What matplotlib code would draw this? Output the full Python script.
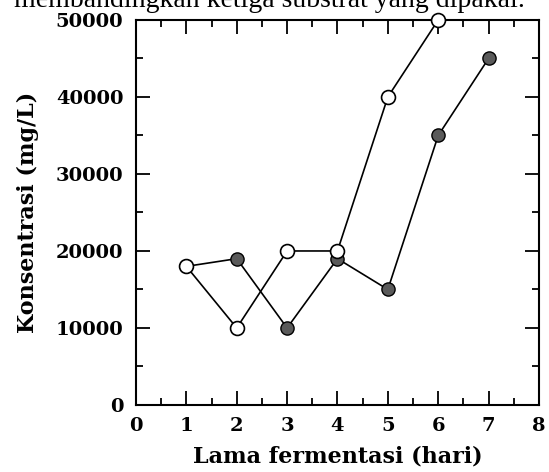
import matplotlib.pyplot as plt
from matplotlib.ticker import MultipleLocator

# data
hari_terbuka = [1, 2, 3, 4, 5, 6]
konsentrasi_terbuka = [18000, 10000, 20000, 20000, 40000, 50000]

hari_isi = [1, 2, 3, 4, 5, 6, 7]
konsentrasi_isi = [18000, 19000, 10000, 19000, 15000, 35000, 45000]

x_ticks = [0, 1, 2, 3, 4, 5, 6, 7, 8]
y_ticks = [0, 10000, 20000, 30000, 40000, 50000]

plt.rcParams['font.family'] = ['DejaVu Serif', 'Liberation Serif']

fig = plt.figure(figsize=(5.49, 4.72), dpi=100)
ax = fig.add_axes([0.2477, 0.142, 0.734, 0.8157])

ax.plot(hari_isi, konsentrasi_isi, color='black', lw=1.2, marker='o',
        markersize=9.5, markerfacecolor='#5a5a5a', markeredgecolor='black',
        markeredgewidth=1.0, clip_on=False, zorder=3)
ax.plot(hari_terbuka, konsentrasi_terbuka, color='black', lw=1.2, marker='o',
        markersize=10, markerfacecolor='white', markeredgecolor='black',
        markeredgewidth=1.2, clip_on=False, zorder=4)

ax.set_xlim(0, 8)
ax.set_ylim(0, 50000)
ax.set_xticks(x_ticks)
ax.set_yticks(y_ticks)
ax.xaxis.set_minor_locator(MultipleLocator(0.5))
ax.yaxis.set_minor_locator(MultipleLocator(5000))
ax.tick_params(which='both', direction='in', top=True, right=True,
               labelsize=14, width=1.3, pad=9)
ax.tick_params(which='major', length=10)
ax.tick_params(which='minor', length=5)
for lbl in ax.get_xticklabels() + ax.get_yticklabels():
    lbl.set_fontweight('bold')
for s in ax.spines.values():
    s.set_linewidth(1.5)

ax.set_xlabel('Lama fermentasi (hari)', fontsize=16, fontweight='bold', labelpad=7)
ax.set_ylabel('Konsentrasi (mg/L)', fontsize=16, fontweight='bold', labelpad=12)

# caption line cut off at the top of the scan
fig.text(0.49, 0.986, 'membandingkan ketiga substrat yang dipakai.',
         ha='center', va='baseline', fontsize=20,
         family=['Liberation Serif', 'DejaVu Serif'])

fig.savefig('out.png', dpi=100)
